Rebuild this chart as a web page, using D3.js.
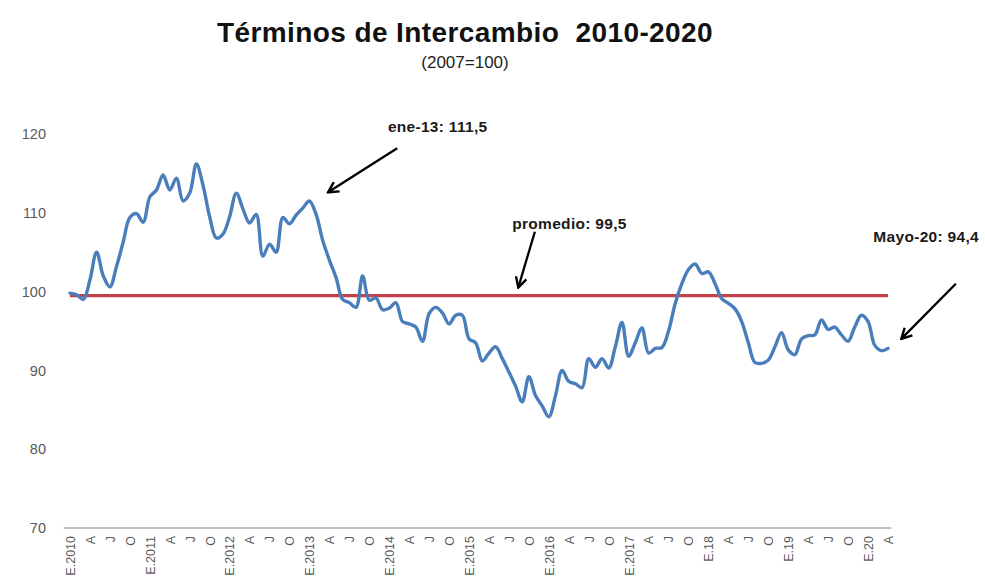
<!DOCTYPE html>
<html>
<head>
<meta charset="utf-8">
<script src="https://cdn.jsdelivr.net/npm/d3@7"></script>
<style>
  html, body { margin: 0; padding: 0; background: #ffffff; }
  svg { display: block; }
</style>
</head>
<body>
<svg id="chart" width="985" height="584"></svg>
<script>
// ---- data (monthly, Jan 2010 .. Apr 2020) ----
const years = [2010, 2011, 2012, 2013, 2014, 2015, 2016, 2017, 2018, 2019, 2020];
const values = [
  // 2010
  99.8, 99.6, 99.0, 101.5, 105.0, 102.0, 100.6, 103.2, 106.3, 109.4, 109.9, 108.8,
  // 2011
  112.0, 112.9, 114.8, 112.9, 114.4, 111.5, 112.5, 116.2, 113.5, 109.5, 106.8, 107.3,
  // 2012
  109.5, 112.5, 110.5, 108.7, 109.8, 104.5, 106.0, 105.0, 109.4, 108.6, 109.7, 110.6,
  // 2013
  111.5, 109.8, 106.5, 104.0, 101.8, 99.0, 98.6, 98.0, 102.0, 98.9, 99.2, 97.7,
  // 2014
  97.9, 98.6, 96.2, 95.9, 95.5, 93.7, 97.2, 98.0, 97.3, 95.9, 97.0, 97.0,
  // 2015
  94.0, 93.5, 91.2, 92.2, 93.0, 91.5, 89.8, 88.0, 86.0, 89.2, 86.8, 85.5,
  // 2016
  84.1, 86.8, 90.0, 88.6, 88.3, 87.8, 91.5, 90.4, 91.5, 90.3, 93.0, 96.1,
  // 2017
  91.8, 93.5, 95.4, 92.2, 92.8, 92.9, 95.0, 98.5, 101.0, 102.8, 103.5, 102.3,
  // 2018
  102.5, 101.0, 99.1, 98.5, 97.8, 96.2, 93.5, 91.0, 90.9, 91.3, 93.0, 94.8,
  // 2019
  92.6, 92.0, 94.0, 94.4, 94.5, 96.4, 95.2, 95.5, 94.5, 93.7, 95.5, 97.0,
  // 2020
  96.2, 93.2, 92.5, 92.8
];
const promedio = 99.5;
const quarterLetters = ["E", "A", "J", "O"];
const yTicks = [70, 80, 90, 100, 110, 120];
const titleText = "Términos de Intercambio  2010-2020";
const subtitleText = "(2007=100)";
// annotations: text anchor and arrow given in data units (month index, value)
const annotations = [
  { text: "ene-13: 111,5", ti: 47.8, tv: 120.3, fi: 49.2, fv: 118.2, hi: 38.8, hv: 112.6 },
  { text: "promedio: 99,5", ti: 66.5, tv: 107.9, fi: 69.9, fv: 107.6, hi: 67.4, hv: 100.5 },
  { text: "Mayo-20: 94,4", ti: 120.8, tv: 106.3, fi: 133.2, fv: 101.0, hi: 125.0, hv: 94.0 }
];

// tick label for a month index (every quarter)
function tickLabel(i) {
  const y = years[Math.floor(i / 12)];
  const m = (i % 12) / 3;
  if (m === 0) return y >= 2018 ? "E." + String(y).slice(2) : "E." + y;
  return quarterLetters[m];
}

const svg = d3.select("#chart");
const x = d3.scaleLinear().domain([0, values.length - 1]).range([70, 888]);
const y = d3.scaleLinear().domain([70, 120]).range([528, 134]);
const step = x(1) - x(0);
const FONT = "'Liberation Sans', Arial, sans-serif";

// title
svg.append("text").attr("x", 465).attr("y", 42).attr("text-anchor", "middle")
  .style("white-space", "pre")
  .attr("font-family", FONT).attr("font-weight", "bold")
  .attr("font-size", 28).attr("letter-spacing", 0.4).attr("fill", "#111").text(titleText);
svg.append("text").attr("x", 465).attr("y", 68).attr("text-anchor", "middle")
  .attr("font-family", FONT)
  .attr("font-size", 17).attr("fill", "#222").text(subtitleText);

// y axis (labels only)
const yAxis = svg.append("g").attr("transform", "translate(50,0)")
  .call(d3.axisLeft(y).tickValues(yTicks).tickSize(0).tickPadding(4).tickFormat(d3.format("d")));
yAxis.select(".domain").remove();
yAxis.selectAll("text").attr("font-family", FONT)
  .attr("font-size", 14.5).attr("fill", "#595959");

// x axis
const tickIdx = d3.range(0, values.length, 3);
const xAxis = svg.append("g").attr("transform", "translate(0,528)")
  .call(d3.axisBottom(x).tickValues(tickIdx).tickSize(0).tickFormat(tickLabel));
xAxis.select(".domain").attr("d", `M${x(0) - step / 2 - 3},0H${x(values.length - 1) + step / 2}`)
  .attr("stroke", "#868686").attr("stroke-width", 1);
xAxis.selectAll("text")
  .attr("font-family", FONT).attr("font-size", 12.5)
  .attr("fill", "#595959")
  .attr("transform", "rotate(-90)")
  .attr("text-anchor", "end")
  .attr("x", -8).attr("y", 0).attr("dy", "0.35em");

// promedio line
const avgLine = d3.line().x(d => x(d[0])).y(d => y(d[1]));
svg.append("path")
  .attr("d", avgLine([[0, promedio], [values.length - 1, promedio]]))
  .attr("fill", "none").attr("stroke", "#C4404A").attr("stroke-width", 3.2);

// series line
const line = d3.line().x((d, i) => x(i)).y(d => y(d)).curve(d3.curveCatmullRom.alpha(0.5));
svg.append("path").datum(values)
  .attr("d", line)
  .attr("fill", "none").attr("stroke", "#4A7EBB").attr("stroke-width", 3.4)
  .attr("stroke-linejoin", "round").attr("stroke-linecap", "round");

// arrow marker
svg.append("defs").append("marker")
  .attr("id", "arr").attr("viewBox", "0 0 12 12").attr("refX", 10.5).attr("refY", 6)
  .attr("markerWidth", 13).attr("markerHeight", 13).attr("markerUnits", "userSpaceOnUse")
  .attr("orient", "auto")
  .append("path").attr("d", "M1,1 L10.5,6 L1,11").attr("fill", "none")
  .attr("stroke", "#000").attr("stroke-width", 2.2).attr("stroke-linejoin", "miter");

const ann = svg.append("g");
annotations.forEach(a => {
  ann.append("line")
    .attr("x1", x(a.fi)).attr("y1", y(a.fv)).attr("x2", x(a.hi)).attr("y2", y(a.hv))
    .attr("stroke", "#000").attr("stroke-width", 2.3).attr("marker-end", "url(#arr)");
  ann.append("text").attr("x", x(a.ti)).attr("y", y(a.tv))
    .attr("font-family", FONT).attr("font-weight", "bold")
    .attr("font-size", 15.5).attr("letter-spacing", 0.3).attr("fill", "#1a1a1a").text(a.text);
});
</script>
</body>
</html>
